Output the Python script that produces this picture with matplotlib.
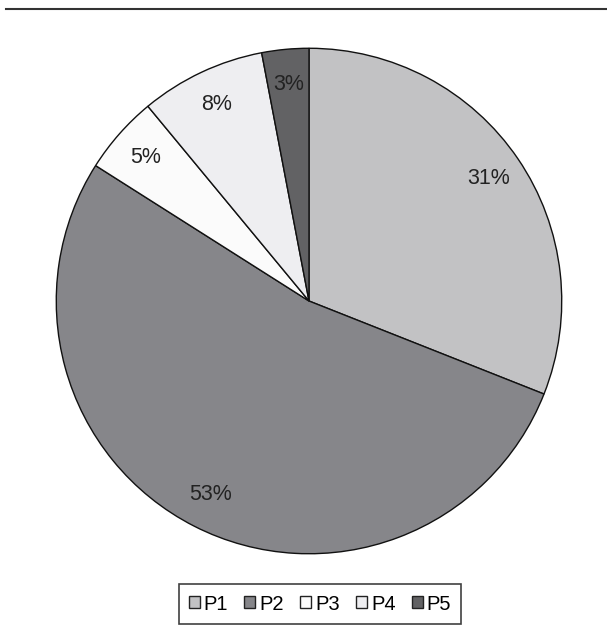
import matplotlib.pyplot as plt
from matplotlib.patches import Patch

plt.rcParams['font.family'] = ['Liberation Sans', 'DejaVu Sans']

labels = ['P1', 'P2', 'P3', 'P4', 'P5']
values = [31, 53, 5, 8, 3]
colors = ['#c2c2c4', '#86868a', '#fbfbfb', '#eeeef1', '#626264']

fig = plt.figure(figsize=(6.07, 6.41), dpi=100)
ax = fig.add_axes([55 / 607, 1 - 556 / 641, 508 / 607, 510 / 641])

wedges, texts, autotexts = ax.pie(values, colors=colors, startangle=90, counterclock=False,
                                  autopct=lambda p: '%d%%' % round(p), pctdistance=0.86,
                                  wedgeprops=dict(edgecolor='#111111', linewidth=1.0),
                                  textprops=dict(fontsize=15.5, color='#222222'))
ax.set_xlim(-1.005, 1.005)
ax.set_ylim(-1.005, 1.005)
ax.set_aspect('equal')

# top rule
fig.add_artist(plt.Line2D([6 / 607, 1.0], [1 - 8.5 / 641] * 2, color='#333333', linewidth=1.5))

handles = [Patch(facecolor=c, edgecolor='#222222', linewidth=1.0) for c in colors]
leg = fig.legend(handles, labels, loc='center', bbox_to_anchor=(320 / 607, 1 - 604 / 641),
                 ncol=5, fontsize=14.5, frameon=True, fancybox=False, handlelength=0.55,
                 handleheight=0.55, handletextpad=0.2, columnspacing=0.8, borderpad=0.5)
leg.get_frame().set_edgecolor('#111111')
leg.get_frame().set_linewidth(1.2)

fig.savefig('out.png', dpi=100)
